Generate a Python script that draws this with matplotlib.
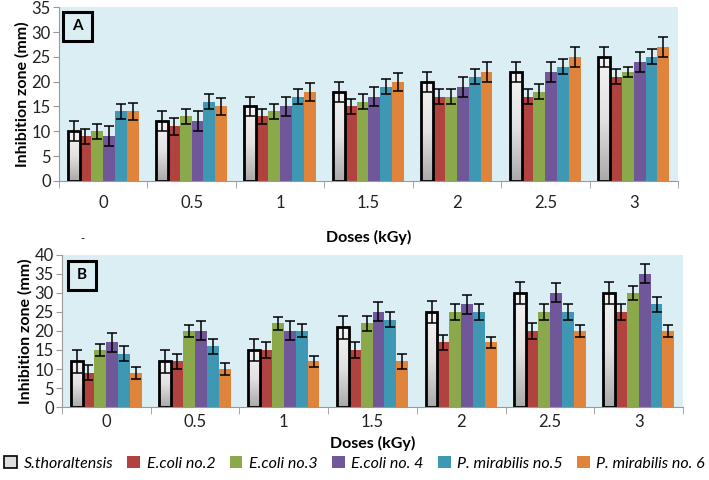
import numpy as np
import matplotlib.pyplot as plt
from matplotlib.patches import Rectangle
from matplotlib.colors import LinearSegmentedColormap

doses = ['0', '0.5', '1', '1.5', '2', '2.5', '3']
strains = ['S.thoraltensis', 'E.coli no.2', 'E.coli no.3', 'E.coli no. 4',
           'P. mirabilis no.5', 'P. mirabilis no. 6']
colors = ['#e6e6e6', '#b0433f', '#8ba84b', '#70579a', '#3f98b3', '#e0833b']

# panel A: rows = strains, cols = doses
A_val = [[10, 12, 15, 18, 20, 22, 25],
         [9, 11, 13, 15, 17, 17, 21],
         [10, 13, 14, 16, 17, 18, 22],
         [9, 12, 15, 17, 19, 22, 24],
         [14, 16, 17, 19, 21, 23, 25],
         [14, 15, 18, 20, 22, 25, 27]]
A_err = [[2, 2, 2, 2, 2, 2, 2],
         [1.5, 1.7, 1.5, 1.5, 1.5, 1.5, 1.5],
         [1.5, 1.5, 1.5, 1.5, 1.5, 1.5, 1.0],
         [2, 2, 2, 2, 2, 2, 2],
         [1.5, 1.5, 1.5, 1.5, 1.5, 1.5, 1.5],
         [1.8, 1.8, 1.8, 1.8, 2, 2, 2]]

# panel B
B_val = [[12, 12, 15, 21, 25, 30, 30],
         [9, 12, 15, 15, 17, 20, 25],
         [15, 20, 22, 22, 25, 25, 30],
         [17, 20, 20, 25, 27, 30, 35],
         [14, 16, 20, 23, 25, 25, 27],
         [9, 10, 12, 12, 17, 20, 20]]
B_err = [[3, 3, 3, 3, 3, 3, 3],
         [2, 2, 2, 2, 2, 2, 2],
         [1.5, 1.5, 1.7, 2, 2, 2, 1.8],
         [2.5, 2.5, 2.5, 2.5, 2.5, 2.5, 2.5],
         [2, 2, 1.7, 2, 2, 2, 2],
         [1.5, 1.5, 1.5, 2, 1.5, 1.5, 1.5]]

plt.rcParams['font.family'] = ['Lato', 'DejaVu Sans']

fig = plt.figure(figsize=[7.09, 4.8], dpi=100)
axA = fig.add_axes([0.0832, 0.623, 0.873, 0.362])
axB = fig.add_axes([0.0874, 0.152, 0.876, 0.317])

grad = np.linspace(0, 1, 100).reshape(-1, 1)
gcmap = LinearSegmentedColormap.from_list('g', ['#f4f4f4', '#e2e2e2', '#aaaaaa'])


def panel(ax, vals, errs, ymax, ystep, letter, box, tpad, lpad):
    x = np.arange(len(doses))
    w = 0.134
    ax.set_facecolor('#dbeef4')
    handles = []
    for i in range(len(strains)):
        pos = x - 2.5 * w + i * w
        if i == 0:
            bars = ax.bar(pos, vals[i], w, color='none', edgecolor='black',
                          linewidth=2, zorder=3, label=strains[i])
            for b in bars:
                im = ax.imshow(grad, cmap=gcmap, vmin=0, vmax=1,
                               extent=[b.get_x(), b.get_x() + w, 0, b.get_height()],
                               aspect='auto', origin='upper', zorder=2)
                im.set_clip_path(b)
        else:
            bars = ax.bar(pos, vals[i], w, color=colors[i], zorder=2,
                          label=strains[i])
        ax.errorbar(pos, vals[i], yerr=errs[i], fmt='none', ecolor='black',
                    elinewidth=1.1, capsize=3.5, capthick=1.1, zorder=4)
        handles.append(bars)
    ax.set_xlim(-0.5, len(doses) - 0.5)
    ax.set_ylim(0, ymax)
    ax.set_yticks(np.arange(0, ymax + 1, ystep))
    ax.set_xticks(x)
    ax.set_xticklabels(doses)
    ax.set_xticks(np.arange(-0.5, len(doses)), minor=True)
    ax.tick_params(axis='x', which='major', length=0, labelsize=12, pad=tpad,
                   labelcolor='#222222')
    ax.tick_params(axis='x', which='minor', length=5, color='#999999',
                   direction='out')
    ax.tick_params(axis='y', length=4, color='#999999', labelsize=12,
                   labelcolor='#222222', pad=2)
    for s in ['top', 'right']:
        ax.spines[s].set_visible(False)
    ax.spines['left'].set_color('#999999')
    ax.spines['bottom'].set_color('#999999')
    ax.set_ylabel('Inhibition zone (mm)', fontsize=11.5, fontweight='bold',
                  labelpad=1)
    ax.set_xlabel('Doses (kGy)', fontsize=11.5, fontweight='bold', labelpad=lpad)
    ax.add_patch(Rectangle((box[0], box[1]), box[2], box[3],
                           transform=ax.transAxes, facecolor='none',
                           edgecolor='black', linewidth=2.2, zorder=5,
                           clip_on=False))
    ax.text(box[0] + box[2] / 2, box[1] + box[3] / 2, letter,
            transform=ax.transAxes, ha='center', va='center',
            fontsize=11, fontweight='bold', zorder=6)
    return handles


h = panel(axA, A_val, A_err, 35, 5, 'A', [0.007, 0.805, 0.047, 0.17], 10, 14)
panel(axB, B_val, B_err, 40, 5, 'B', [0.009, 0.77, 0.045, 0.19], 5, 4)

fig.text(0.116, 0.503, '-', fontsize=8, ha='center', va='center')

leg = fig.legend(h, strains, loc='center', bbox_to_anchor=(0.5, 0.035),
                 ncol=6, frameon=False, handlelength=0.8, handleheight=0.8,
                 handletextpad=0.4, columnspacing=0.9,
                 prop={'style': 'italic', 'size': 11.5})
leg.legend_handles[0].set_facecolor('#dddddd')
leg.legend_handles[0].set_edgecolor('black')
leg.legend_handles[0].set_linewidth(1.2)

fig.savefig('out.png', dpi=100)
